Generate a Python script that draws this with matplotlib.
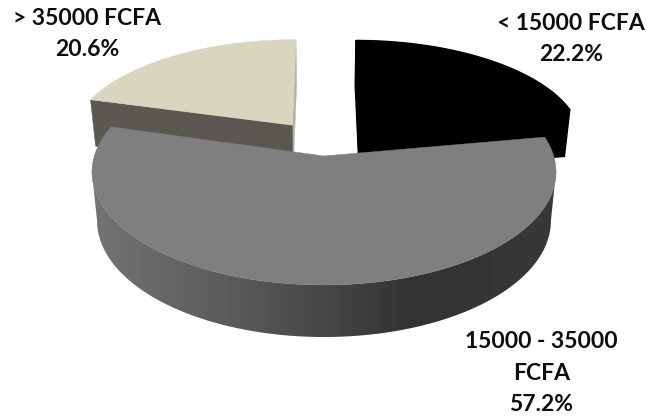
import numpy as np
import matplotlib
matplotlib.use('Agg')
import matplotlib.pyplot as plt
from matplotlib.patches import Polygon

# Data
etiquetas = ['< 15000 FCFA', '15000 - 35000\nFCFA', '> 35000 FCFA']
valores = [22.2, 57.2, 20.6]
colores_cara = ['#000000', '#7f7f7f', '#d8d6bf']
colores_lado = ['#000000', '#6f6f6f', '#5a5850']

# Perspective of the disc (pixels)
X0, Y0 = 324, 156
B, A, K = 229.7, 110.7, 0.1416
PROF, ESC_X, ESC_Y = 43.5, 0.978, 0.03

# Slice centre on the disc and radius (u, v, ru, rv)
centros = [(0.163, 0.28, 0.99, 0.945), (0, 0, 1, 1), (-0.143, 0.29, 0.99, 0.945)]


def proyectar(u, v):
    d = 1 + K * v
    return X0 + B * u / d, Y0 - A * v / d


def bajar(x, y):
    # top face point -> same point on the bottom face
    return X0 + (x - X0) * ESC_X, y + PROF + ESC_Y * y


def arco(i, a0, a1, n=240):
    cu, cv, ru, rv = centros[i]
    t = np.radians(np.linspace(a0, a1, n))
    return proyectar(cu + ru * np.sin(t), cv + rv * np.cos(t))


fig = plt.figure(figsize=(6.47, 4.19), dpi=100)
ax = fig.add_axes([0, 0, 1, 1])

limites = np.cumsum([0] + valores) * 3.6

# back slices first, the big one goes on top
for i in [2, 0, 1]:
    a0, a1 = limites[i], limites[i + 1]
    xa, ya = arco(i, a0, a1)
    cx, cy = proyectar(centros[i][0], centros[i][1])
    cbx, cby = bajar(cx, cy)
    grosor = 1.0 if i == 0 else 0.3

    if i == 1:
        # round side with a gradient, clipped to the wall shape
        bx, by = bajar(xa, ya)
        i0, i1 = np.argmax(xa), np.argmin(xa)
        borde = np.r_[np.c_[xa, ya][i0:i1 + 1], np.c_[bx, by][i0:i1 + 1][::-1]]
        lado = Polygon(borde, closed=True, fc='none', ec='none', zorder=3)
        ax.add_patch(lado)
        grises = np.interp(np.arange(90, 560), [95, 250, 410, 560], [0.45, 0.34, 0.2, 0.22])
        img = ax.imshow(grises[None, :], extent=(90, 560, 345, 120), cmap='gray',
                        vmin=0, vmax=1, aspect='auto', zorder=3)
        img.set_clip_path(lado)
    else:
        # cut faces
        for j, (ex, ey) in enumerate([(xa[0], ya[0]), (xa[-1], ya[-1])]):
            ebx, eby = bajar(ex, ey)
            color = colores_lado[i]
            if i == 2 and j == 1:
                color = '#b5b3a0'
            ax.add_patch(Polygon([(cx, cy), (ex, ey), (ebx, eby), (cbx, cby)],
                                 closed=True, fc=color, ec=color, lw=grosor,
                                 zorder=1 if i == 2 and j == 1 else 1.5))

    ax.add_patch(Polygon(np.r_[[(cx, cy)], np.c_[xa, ya]], closed=True,
                         fc=colores_cara[i], ec=colores_cara[i], lw=grosor,
                         zorder=4 if i == 1 else 2))

ax.set_xlim(0, 647)
ax.set_ylim(419, 0)
ax.axis('off')

# Labels
fuente = dict(family='Lato', weight='bold', fontsize=16.5, color='#0d0d0d',
              ha='center', va='center', linespacing=1.6)
ax.text(571, 39, f'{etiquetas[0]}\n{valores[0]}%', **fuente)
ax.text(541.5, 373, f'{etiquetas[1]}\n{valores[1]}%', **fuente)
ax.text(87, 34, f'{etiquetas[2]}\n{valores[2]}%', **fuente)

fig.savefig('out.png', dpi=100)
